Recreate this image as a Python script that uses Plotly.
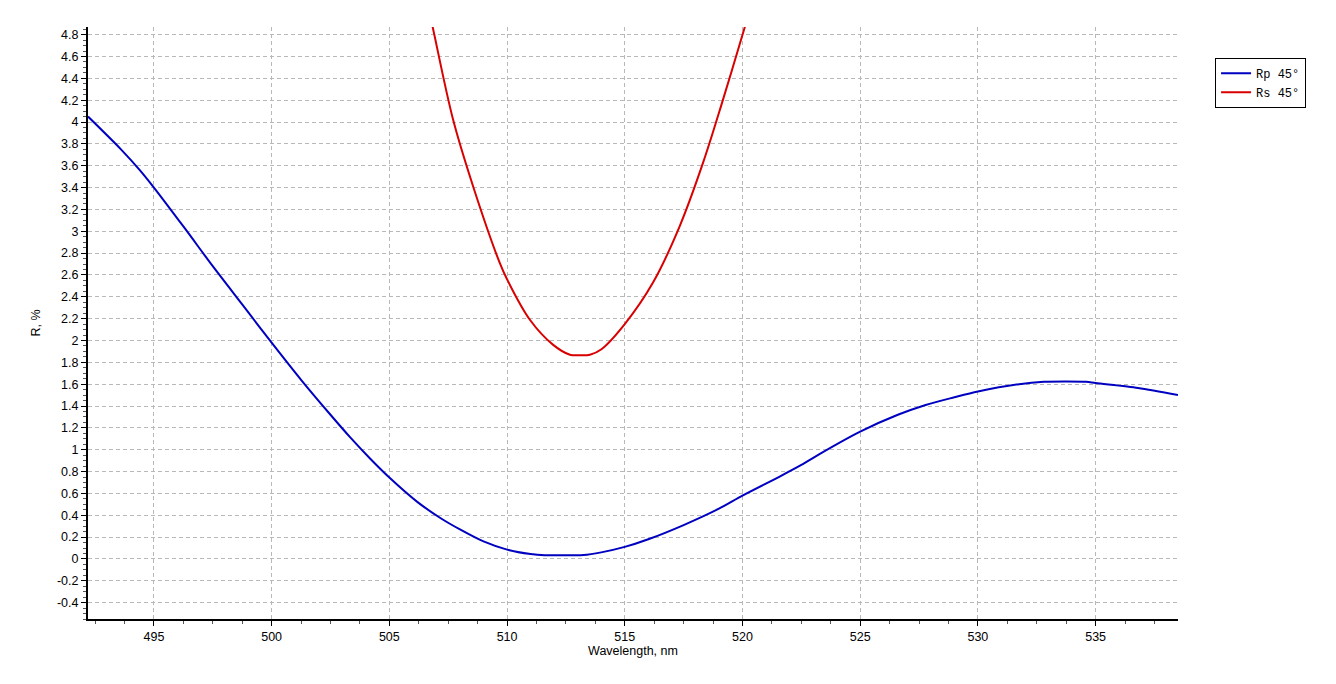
import plotly.graph_objects as go

# Rp 45° (blue)
rp_wl = [492.2, 493.6, 494.4, 495.0, 496.3, 497.5, 498.75, 500.0, 501.25, 502.5, 503.33, 504.2,
         505.0, 506.2, 507.2, 508.0, 509.0, 510.0, 511.0, 511.6, 512.5, 513.25, 514.0, 515.0,
         516.0, 517.5, 519.0, 520.0, 521.58, 522.5, 523.27, 525.0, 526.6, 527.78, 529.0, 530.0,
         531.75, 532.8, 533.7, 534.6, 535.0, 536.8, 538.5]
rp_val = [4.05, 3.75, 3.56, 3.40, 3.03, 2.68, 2.33, 1.98, 1.64, 1.32, 1.115, 0.915,
          0.745, 0.52, 0.37, 0.27, 0.16, 0.085, 0.045, 0.034, 0.034, 0.035, 0.06, 0.11,
          0.18, 0.31, 0.46, 0.58, 0.754, 0.86, 0.96, 1.166, 1.32, 1.41, 1.48, 1.533,
          1.60, 1.622, 1.625, 1.622, 1.61, 1.565, 1.50]

# Rs 45° (red)
rs_wl = [506.6, 506.84, 507.71, 508.56, 509.69, 510.0, 510.97, 511.96, 512.67, 513.1,
         513.52, 514.01, 515.0, 516.2, 517.34, 518.33, 519.18, 520.1, 520.4]
rs_val = [5.10, 4.87, 4.02, 3.41, 2.71, 2.56, 2.19, 1.96, 1.87, 1.865,
          1.87, 1.92, 2.15, 2.53, 3.05, 3.63, 4.21, 4.87, 5.09]

x_ticks = [495, 500, 505, 510, 515, 520, 525, 530, 535]
y_ticks = [-0.4, -0.2, 0, 0.2, 0.4, 0.6, 0.8, 1, 1.2, 1.4, 1.6, 1.8, 2, 2.2, 2.4, 2.6,
           2.8, 3, 3.2, 3.4, 3.6, 3.8, 4, 4.2, 4.4, 4.6, 4.8]
y_labels = ["-0.4", "-0.2", "0", "0.2", "0.4", "0.6", "0.8", "1", "1.2", "1.4", "1.6",
            "1.8", "2", "2.2", "2.4", "2.6", "2.8", "3", "3.2", "3.4", "3.6", "3.8",
            "4", "4.2", "4.4", "4.6", "4.8"]

fig = go.Figure()
fig.add_trace(go.Scatter(x=rp_wl, y=rp_val, mode="lines", name="Rp 45°",
                         line=dict(color="#0000c0", width=2, shape="spline", smoothing=0.8)))
fig.add_trace(go.Scatter(x=rs_wl, y=rs_val, mode="lines", name="Rs 45°",
                         line=dict(color="#d80000", width=2, shape="spline", smoothing=1.0)))

font = "Liberation Sans, Arial, sans-serif"
grid = dict(showgrid=True, gridcolor="#b8b8b8", gridwidth=1, griddash="4px,3px")

fig.update_layout(
    width=1336, height=684,
    margin=dict(l=88, r=158, t=27, b=65),
    paper_bgcolor="white", plot_bgcolor="white",
    font=dict(family=font, size=12, color="#000000"),
    showlegend=True,
    legend=dict(x=1.034, y=0.948, xanchor="left", yanchor="top",
                bordercolor="#000000", borderwidth=1, bgcolor="white",
                font=dict(family="Liberation Mono, Courier New, monospace", size=12),
                itemwidth=30, tracegroupgap=0),
    xaxis=dict(range=[492.2, 538.5], tickvals=x_ticks, ticks="outside", ticklen=5,
               tickcolor="#000", showline=True, linecolor="#000", linewidth=2,
               zeroline=False, tickfont=dict(size=12.5),
               minor=dict(dtick=1.25, tick0=495, ticks="outside", ticklen=3, tickcolor="#555", showgrid=False),
               title=dict(text="Wavelength, nm", standoff=2, font=dict(size=12.5)),
               **grid),
    yaxis=dict(range=[-0.55, 4.87], tickvals=y_ticks, ticktext=y_labels, ticks="outside",
               ticklen=5, tickcolor="#000", showline=True, linecolor="#000", linewidth=2,
               zeroline=False, tickfont=dict(size=12.5),
               minor=dict(dtick=0.05, tick0=0, ticks="outside", ticklen=3, tickcolor="#555", showgrid=False),
               title=dict(text="R, %", standoff=14, font=dict(size=12.5)),
               **grid),
)

fig.write_html("out.html")
